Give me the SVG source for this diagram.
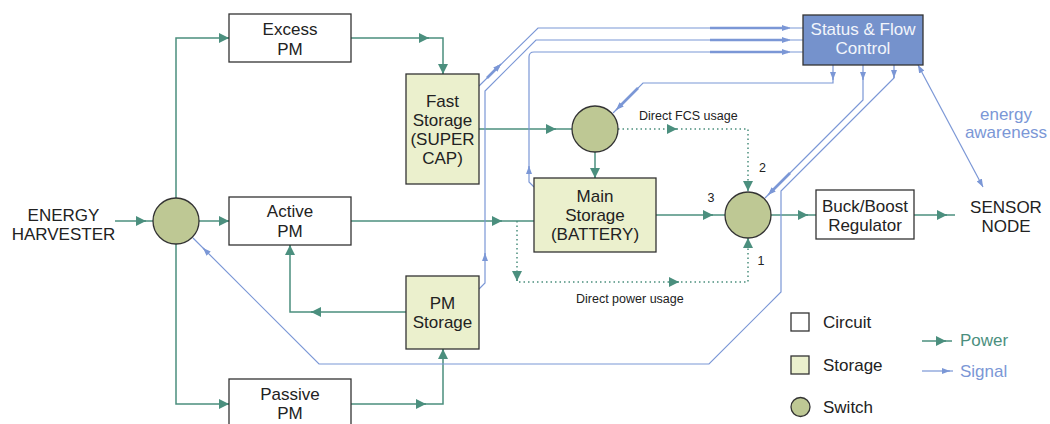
<svg xmlns="http://www.w3.org/2000/svg" width="1050" height="424" viewBox="0 0 1050 424">
<style>
text{font-family:"Liberation Sans",Arial,sans-serif;fill:#222}
.t{font-size:17px;text-anchor:middle}
.s{font-size:12.5px}
.c{fill:#fff;stroke:#333;stroke-width:1.3}
.st{fill:#ebf0cd;stroke:#333;stroke-width:1.3}
.sw{fill:#bec894;stroke:#333;stroke-width:1.3}
.ctl{fill:#7592cc;stroke:#333;stroke-width:1.3}
.pw{fill:none;stroke:#4b8f7e;stroke-width:1.5}
.pd{fill:none;stroke:#4b8f7e;stroke-width:1.5;stroke-dasharray:1.5 3}
.pa{fill:none;stroke:#4b8f7e;stroke-width:1.5;marker-end:url(#pwa)}
.sg{fill:none;stroke:#7b97d6;stroke-width:1.2}
.sgt{fill:none;stroke:#7b97d6;stroke-width:2.6}
.sa{fill:none;stroke:#7b97d6;stroke-width:1.2;marker-end:url(#sga)}
</style>
<defs>
<marker id="pwa" viewBox="0 0 10 10" refX="10" refY="5" markerWidth="10" markerHeight="10" markerUnits="userSpaceOnUse" orient="auto"><path d="M0,0 L10,5 L0,10 z" fill="#4b8f7e"/></marker>
<marker id="sga" viewBox="0 0 8 6" refX="8" refY="3" markerWidth="8" markerHeight="6" markerUnits="userSpaceOnUse" orient="auto-start-reverse"><path d="M0,0 L8,3 L0,6 z" fill="#7b97d6"/></marker>
</defs>
<rect width="1050" height="424" fill="#fff"/>
<g id="connectors">
<path class="pw" d="M115,221 H153"/>
<path class="pw" d="M199,221 H229"/>
<path class="pw" d="M176,198 V38 H229"/>
<path class="pw" d="M176,244 V404 H229"/>
<path class="pw" d="M351,38 H443 V74"/>
<path class="pw" d="M351,404 H443 V349"/>
<path class="pw" d="M406,312 H290 V245"/>
<path class="pw" d="M351,221 H534"/>
<path class="pw" d="M479,129 H572"/>
<path class="pw" d="M595,152 V178"/>
<path class="pw" d="M656,215 H725"/>
<path class="pw" d="M771,215 H816"/>
<path class="pw" d="M914,215 H955"/>
<path class="pd" d="M618,129 H748 V192"/>
<path class="pd" d="M517,221 V282 H748 V238"/>
<path class="pa" d="M144,221 L146,221"/>
<path class="pa" d="M227,221 L229,221"/>
<path class="pa" d="M227,38 L229,38"/>
<path class="pa" d="M227,404 L229,404"/>
<path class="pa" d="M427,38 L429,38"/>
<path class="pa" d="M443,72 L443,74"/>
<path class="pa" d="M424,404 L426,404"/>
<path class="pa" d="M443,351 L443,349"/>
<path class="pa" d="M313,312 L311,312"/>
<path class="pa" d="M290,247 L290,245"/>
<path class="pa" d="M500,221 L502,221"/>
<path class="pa" d="M554,129 L556,129"/>
<path class="pa" d="M595,176 L595,178"/>
<path class="pa" d="M711,215 L713,215"/>
<path class="pa" d="M806,215 L808,215"/>
<path class="pa" d="M945,215 L947,215"/>
<path class="pa" d="M675,129 L677,129"/>
<path class="pa" d="M748,189 L748,191"/>
<path class="pa" d="M517,279 L517,281"/>
<path class="pa" d="M677,282 L679,282"/>
<path class="pa" d="M748,240 L748,238"/>
<path class="sg" d="M479,86 L538,28 H803"/>
<path class="sg" d="M479,289 L485,283 V91 L536,40 H803"/>
<path class="sg" d="M534,187 L529,182 V57 Q529,52 534,52 H803"/>
<path class="sg" d="M833,65 V83 H643 L613,113"/>
<path class="sg" d="M863,65 V100 L765,198"/>
<path class="sg" d="M894,65 V78 L781,191 V292 L709,364 H319 L193,238"/>
<path class="sg" d="M918,65 L983,187" marker-start="url(#sga)" marker-end="url(#sga)"/>
<path class="sgt" d="M710,28 H788"/>
<path class="sgt" d="M710,40 H788"/>
<path class="sgt" d="M710,52 H788"/>
<path class="sgt" d="M487,78 L499,66"/>
<path class="sgt" d="M638,88 L619,107"/>
<path class="sgt" d="M790,173 L771,192"/>
<path class="sa" d="M788,28 L790,28"/>
<path class="sa" d="M788,40 L790,40"/>
<path class="sa" d="M788,52 L790,52"/>
<path class="sa" d="M499,66 L501,64"/>
<path class="sa" d="M618,108 L616,110"/>
<path class="sa" d="M770,193 L768,195"/>
<path class="sa" d="M205,250 L203,248"/>
<path class="sa" d="M485,255 L485,253"/>
<path class="sa" d="M529,168 L529,166"/>
<path class="sa" d="M833,78 L833,80"/>
<path class="sa" d="M863,78 L863,80"/>
<path class="sa" d="M894,76 L894,78"/>
</g>
<g id="harvester"><text class="t" x="63.5" y="221">ENERGY</text><text class="t" x="63.5" y="240">HARVESTER</text></g>
<g id="switch-in"><circle class="sw" cx="176" cy="221" r="23"/></g>
<g id="excess-pm"><rect class="c" x="229" y="14" width="122" height="48"/><text class="t" x="290" y="35">Excess</text><text class="t" x="290" y="55">PM</text></g>
<g id="active-pm"><rect class="c" x="229" y="197" width="122" height="48"/><text class="t" x="290" y="217">Active</text><text class="t" x="290" y="236.5">PM</text></g>
<g id="passive-pm"><rect class="c" x="229" y="379" width="122" height="48"/><text class="t" x="290" y="400">Passive</text><text class="t" x="290" y="419">PM</text></g>
<g id="fast-storage"><rect class="st" x="406" y="74" width="73" height="110"/><text class="t" x="442.5" y="107">Fast</text><text class="t" x="442.5" y="126">Storage</text><text class="t" x="442.5" y="145">(SUPER</text><text class="t" x="442.5" y="164">CAP)</text></g>
<g id="pm-storage"><rect class="st" x="406" y="276" width="73" height="73"/><text class="t" x="442.5" y="309">PM</text><text class="t" x="442.5" y="328">Storage</text></g>
<g id="switch-fcs"><circle class="sw" cx="595" cy="129" r="23"/></g>
<g id="main-storage"><rect class="st" x="534" y="178" width="122" height="74"/><text class="t" x="595" y="202">Main</text><text class="t" x="595" y="221">Storage</text><text class="t" x="595" y="240">(BATTERY)</text></g>
<g id="switch-out"><circle class="sw" cx="748" cy="215" r="23"/></g>
<g id="status-control"><rect class="ctl" x="803" y="15" width="120" height="50"/><text class="t" x="863" y="35" style="fill:#f2f5fb">Status &amp; Flow</text><text class="t" x="863" y="54" style="fill:#f2f5fb">Control</text></g>
<g id="buck-boost"><rect class="c" x="816" y="190" width="98" height="49"/><text class="t" x="865" y="212">Buck/Boost</text><text class="t" x="865" y="231">Regulator</text></g>
<g id="sensor-node"><text class="t" x="1006" y="213">SENSOR</text><text class="t" x="1006" y="232">NODE</text></g>
<g id="labels">
<text class="t" x="1006" y="120" style="fill:#7b97d6">energy</text>
<text class="t" x="1006" y="138" style="fill:#7b97d6">awareness</text>
<text class="s" x="639" y="120">Direct FCS usage</text>
<text class="s" x="576" y="303">Direct power usage</text>
<text class="s" x="762.5" y="172" text-anchor="middle">2</text>
<text class="s" x="711" y="202" text-anchor="middle">3</text>
<text class="s" x="761" y="265" text-anchor="middle">1</text>
</g>
<g id="legend">
<rect class="c" x="791" y="313" width="18" height="18"/>
<text x="823" y="328" style="font-size:17px">Circuit</text>
<rect class="st" x="791" y="356" width="18" height="18"/>
<text x="823" y="371" style="font-size:17px">Storage</text>
<circle class="sw" cx="800.5" cy="407" r="9.5"/>
<text x="823" y="413" style="font-size:17px">Switch</text>
<path class="pw" d="M922,341 H952"/>
<path class="pa" d="M944,341 L946,341"/>
<text x="960" y="346" style="font-size:17px;fill:#4b8f7e">Power</text>
<path class="sg" d="M922,371 H953"/>
<path class="sa" d="M948,371 L950,371"/>
<text x="960" y="377" style="font-size:17px;fill:#7b97d6">Signal</text>
</g>
</svg>
